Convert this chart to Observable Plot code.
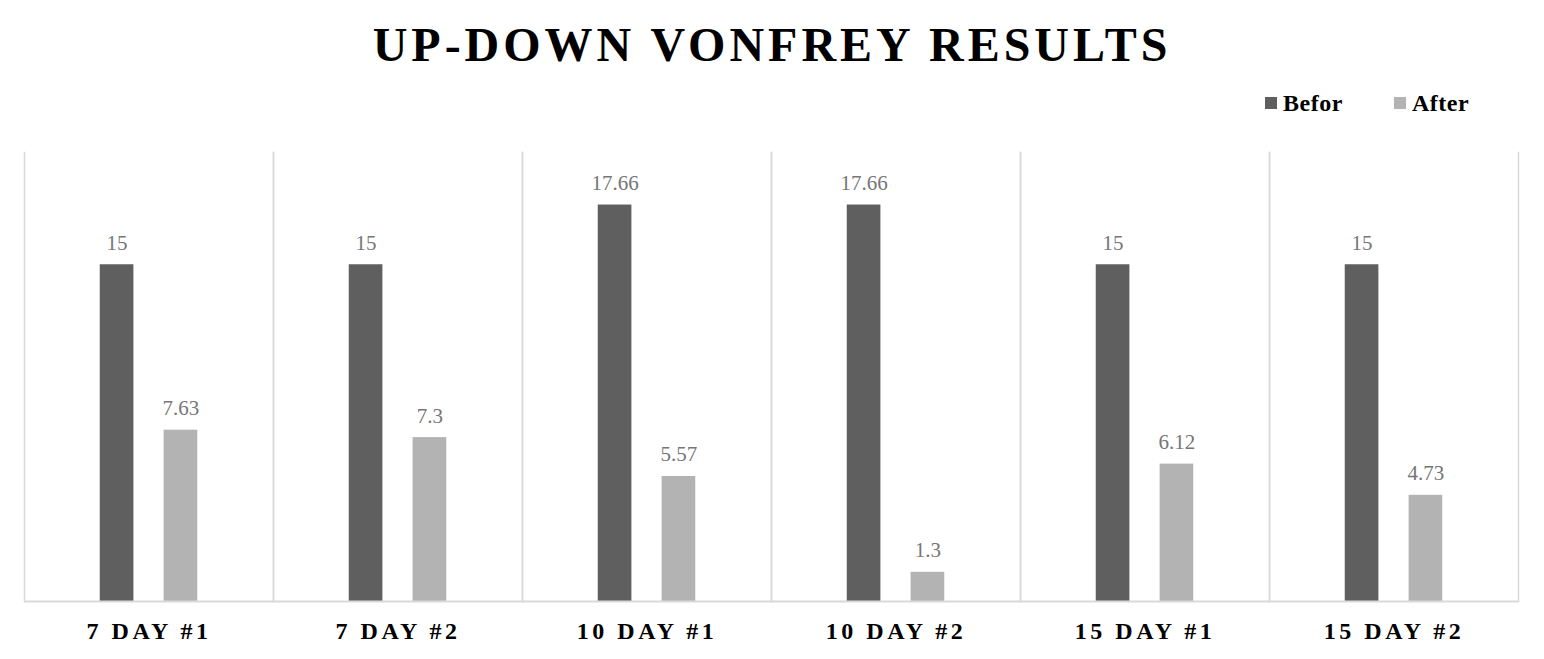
<!DOCTYPE html>
<html>
<head>
<meta charset="utf-8">
<script src="https://cdn.jsdelivr.net/npm/d3@7"></script>
<script src="https://cdn.jsdelivr.net/npm/@observablehq/plot@0.6"></script>
<style>
  html, body { margin: 0; padding: 0; background: #fff; }
  body { width: 1544px; height: 659px; overflow: hidden; font-family: "Liberation Serif", "Times New Roman", serif; }
  #header { position: relative; width: 1544px; height: 125px; }
  #title { position: absolute; left: 0; width: 1544px; top: 21px; text-align: center; font-size: 48px; line-height: 48px; font-weight: bold; letter-spacing: 4px; color: #000; }
  .lg-sw { position: absolute; width: 12px; height: 12px; top: 97px; }
  .lg-tx { position: absolute; top: 91px; font-size: 24px; line-height: 24px; font-weight: bold; color: #000; letter-spacing: 0.5px; }
  #chart svg { display: block; }
  #chart g[aria-label="fx-axis tick label"] text { letter-spacing: 3.5px; }
</style>
</head>
<body>
<div id="header">
  <div id="title">UP-DOWN VONFREY RESULTS</div>
  <div id="legend"></div>
</div>
<div id="chart"></div>
<script>
const categories = ["7 DAY #1", "7 DAY #2", "10 DAY #1", "10 DAY #2", "15 DAY #1", "15 DAY #2"];
const series = ["Befor", "After"];
const beforValues = [15, 15, 17.66, 17.66, 15, 15];
const afterValues = [7.63, 7.3, 5.57, 1.3, 6.12, 4.73];
const seriesColors = ["#5f5f5f", "#b3b3b3"];

const table = [];
categories.forEach((c, i) => {
  table.push({category: c, series: "Befor", value: beforValues[i]});
  table.push({category: c, series: "After", value: afterValues[i]});
});

// legend
const legend = document.getElementById("legend");
const legendPos = [{sw: 1265, tx: 1283}, {sw: 1394, tx: 1412}];
series.forEach((s, i) => {
  const sw = document.createElement("div");
  sw.className = "lg-sw";
  sw.style.left = legendPos[i].sw + "px";
  sw.style.background = seriesColors[i];
  legend.appendChild(sw);
  const tx = document.createElement("div");
  tx.className = "lg-tx";
  tx.style.left = legendPos[i].tx + "px";
  tx.textContent = s;
  legend.appendChild(tx);
});

const chart = Plot.plot({
  width: 1544,
  height: 534,
  marginTop: 27,
  marginBottom: 58,
  marginLeft: 22,
  marginRight: 24,
  style: {fontFamily: "Liberation Serif, Times New Roman, serif", background: "#fff"},
  fx: {domain: categories, padding: 0, label: null, axis: null},
  x: {domain: series, paddingInner: 0.473, paddingOuter: 1.186, axis: null, round: false},
  y: {domain: [0, 20], axis: null},
  color: {domain: series, range: seriesColors},
  marks: [
    Plot.frame({anchor: "left", stroke: "#d9d9d9", strokeWidth: 1.5}),
    Plot.frame({anchor: "right", stroke: "#d9d9d9", strokeWidth: 1.5}),
    Plot.barY(table, {fx: "category", x: "series", y: "value", fill: "series"}),
    Plot.ruleY([0], {stroke: "#d9d9d9", strokeWidth: 2}),
    Plot.text(table, {fx: "category", x: "series", y: "value", text: d => String(d.value),
      lineAnchor: "bottom", dy: -15, fill: "#767676", fontSize: 21}),
    Plot.axisFx({anchor: "bottom", tickSize: 0, tickPadding: 20, label: null,
      fontSize: 24, fontWeight: "bold", fill: "#000"})
  ]
});
document.getElementById("chart").appendChild(chart);
</script>
</body>
</html>
